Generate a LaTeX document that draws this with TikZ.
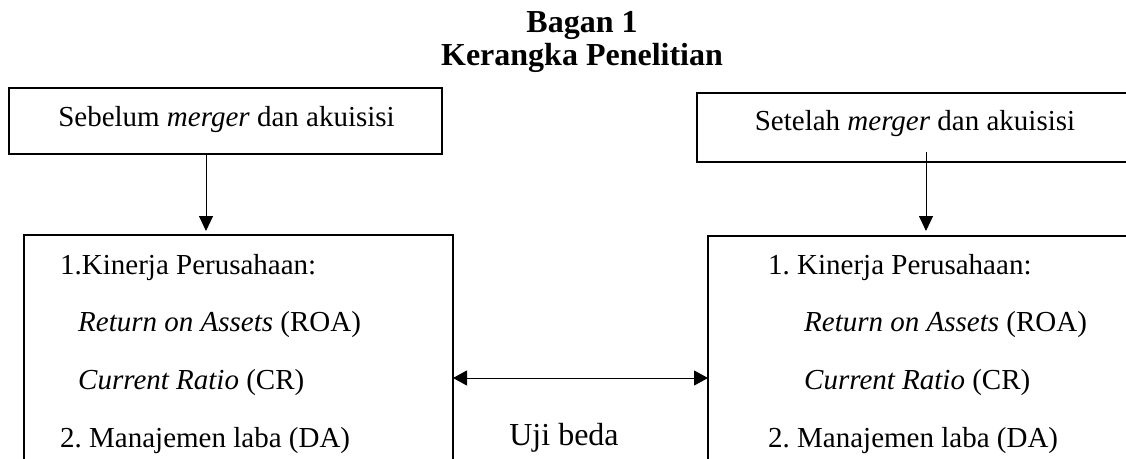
\documentclass[tikz,border=0pt]{standalone}
\usepackage{fontspec}
\setmainfont{Liberation Serif}
\usetikzlibrary{arrows.meta,calc}
\frenchspacing
\begin{document}
\begin{tikzpicture}[x=1pt,y=-1pt,
  topbox/.style={draw,line width=1.8pt,inner sep=0pt,outer sep=0pt,anchor=north west},
  lowbox/.style={draw,line width=1.4pt,inner sep=0pt,outer sep=0pt,anchor=north west},
  body/.style={inner sep=0pt,font=\fontsize{29pt}{34pt}\selectfont},
  ttl/.style={inner sep=0pt,anchor=base,font=\fontsize{32pt}{36pt}\selectfont\bfseries},
  arr/.style={line width=1pt,-{Triangle[length=15pt,width=14pt]}},
  darr/.style={line width=1pt,{Triangle[length=14pt,width=15pt]}-{Triangle[length=14pt,width=15pt]}}]
\useasboundingbox (0,0) rectangle (1126,458);
\clip (0,0) rectangle (1126,458);
% title
\node[ttl] (t1) at (582,32) {Bagan 1};
\node[ttl] (t2) at (582,65) {Kerangka Penelitian};
% top boxes
\node[topbox,minimum width=433pt,minimum height=66pt] (lt) at (9,88) {};
\node[topbox,minimum width=436pt,minimum height=69pt] (rt) at (697,93) {};
\node[body,anchor=base] (ltt) at (226.5,126) {Sebelum \textit{merger} dan akuisisi};
\node[body,anchor=base] (rtt) at (915,130) {Setelah \textit{merger} dan akuisisi};
% lower boxes
\node[lowbox,minimum width=429pt,minimum height=280pt] (lb) at (24,235) {};
\node[lowbox,minimum width=440pt,minimum height=280pt] (rb) at (708,236) {};
% left box text
\node[body,anchor=base west] (l1) at (60,274) {1.Kinerja Perusahaan:};
\node[body,anchor=base west] (l2) at (78,331) {\textit{Return on Assets} (ROA)};
\node[body,anchor=base west] (l3) at (78,389) {\textit{Current Ratio} (CR)};
\node[body,anchor=base west] (l4) at (60,447) {2. Manajemen laba (DA)};
% right box text
\node[body,anchor=base west] (r1) at (768,274) {1. Kinerja Perusahaan:};
\node[body,anchor=base west] (r2) at (804,331) {\textit{Return on Assets} (ROA)};
\node[body,anchor=base west] (r3) at (804,389) {\textit{Current Ratio} (CR)};
\node[body,anchor=base west] (r4) at (768,447) {2. Manajemen laba (DA)};
% middle label
\node[inner sep=0pt,anchor=base,font=\fontsize{32pt}{36pt}\selectfont] (uji) at (564,445) {Uji beda};
% connectors
\coordinate (la) at (206,152);
\coordinate (ra) at (926,152);
\coordinate (da) at (0,378);
\draw[arr,shorten >=4pt] (lt.south -| la) -- (la |- lb.north);
\draw[arr,shorten >=5pt] (ra) -- (ra |- rb.north);
\draw[darr] (lb.east |- da) -- (rb.west |- da);
\end{tikzpicture}
\end{document}
